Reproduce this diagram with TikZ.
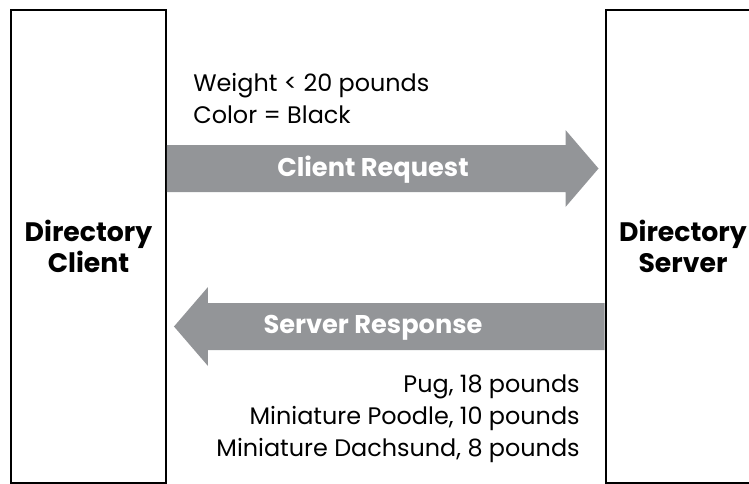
\documentclass[tikz,border=0pt]{standalone}
\usepackage{fontspec}
\setmainfont{Poppins}
\usepackage{tikz}
\usetikzlibrary{calc}
\definecolor{arrowgray}{RGB}{147,149,152}

\begin{document}
\begin{tikzpicture}[font=\fontsize{13.6}{18}\selectfont,
 box/.style={draw,line width=1.13pt,minimum width=3.1cm,minimum height=9.46cm,
 align=center,inner sep=0pt,font=\fontsize{15.2}{18.1}\selectfont\bfseries},
 msg/.style={text=white,font=\fontsize{14.6}{18}\selectfont\bfseries,inner sep=0pt}]
\useasboundingbox (0,0) rectangle (14.98,9.66);
\node[box] (client) at (1.77,4.73) {Directory\\Client};
\node[box] (server) at (13.66,4.73) {Directory\\Server};
\coordinate (reqtail) at (client.east |- 0,6.29);
\coordinate (reqtip) at ([xshift=-0.12cm]server.west |- reqtail);
\fill[arrowgray] ($(reqtail)+(0,0.47)$) -- ($(reqtip)+(-0.66,0.47)$) -- ++(0,0.3)
 -- (reqtip) -- ($(reqtip)+(-0.66,-0.77)$) -- ++(0,0.3) -- ($(reqtail)+(0,-0.47)$) -- cycle;
\coordinate (resptail) at (server.west |- 0,3.13);
\coordinate (resptip) at ([xshift=0.14cm]client.east |- resptail);
\fill[arrowgray] ($(resptail)+(0,0.47)$) -- ($(resptip)+(0.68,0.47)$) -- ++(0,0.32)
 -- (resptip) -- ($(resptip)+(0.68,-0.79)$) -- ++(0,0.32) -- ($(resptail)+(0,-0.47)$) -- cycle;
\node[msg] (reqlabel) at (7.46,6.27) {Client Request};
\node[msg] (resplabel) at (7.46,3.11) {Server Response};
\node[anchor=base west,align=left,inner sep=0pt] (query) at (3.86,7.2)
 {Weight < 20 pounds\\Color = Black};
\node[anchor=base east,align=right,inner sep=0pt] (results) at (11.6,0.54)
 {Pug, 18 pounds\\Miniature Poodle, 10 pounds\\Miniature Dachsund, 8 pounds};
\end{tikzpicture}
\end{document}
